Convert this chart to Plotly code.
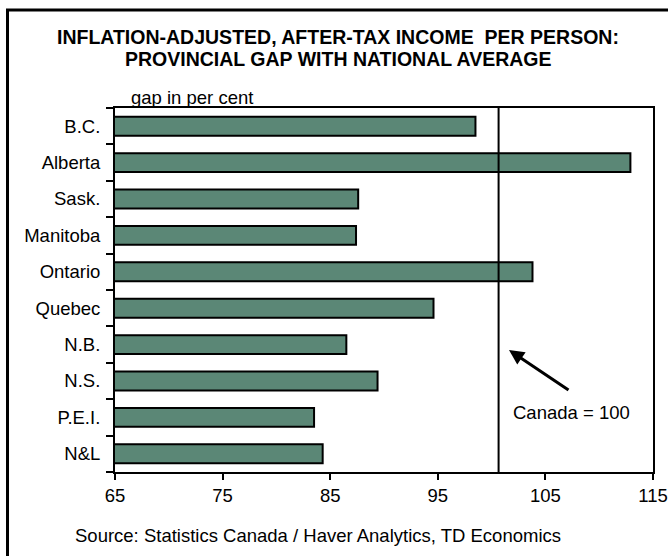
import plotly.graph_objects as go

# Provincial after-tax income per person, Canada = 100
provinces = ["B.C.", "Alberta", "Sask.", "Manitoba", "Ontario",
             "Quebec", "N.B.", "N.S.", "P.E.I.", "N&L"]
income_gap = [98.5, 112.9, 87.6, 87.4, 103.8, 94.6, 86.5, 89.4, 83.5, 84.3]
x_ticks = [65, 75, 85, 95, 105, 115]
canada_line = 100.65

W, H = 668, 556
L, R, T, B = 115, 15, 108, 84
PW, PH = W - L - R, H - T - B


def px_x(px):
    return (px - L) / PW


def px_y(py):
    return (H - B - py) / PH


FONT = "Liberation Sans, Arial, sans-serif"
FS = 18.5

fig = go.Figure(go.Bar(
    x=income_gap,
    y=provinces,
    orientation="h",
    width=0.52,
    marker=dict(color="#5b8776", line=dict(color="black", width=2)),
    showlegend=False,
))

fig.update_layout(
    width=W, height=H,
    margin=dict(l=L, r=R, t=T, b=B, autoexpand=False),
    paper_bgcolor="white", plot_bgcolor="white",
    font=dict(family=FONT, size=FS, color="black"),
    xaxis=dict(
        range=[65, 115], tickvals=x_ticks, ticktext=[str(v) for v in x_ticks],
        showgrid=False, zeroline=False,
        showline=True, linecolor="black", linewidth=2, mirror=True,
        ticks="outside", ticklen=6, tickwidth=2, tickcolor="black",
        tickfont=dict(size=FS),
    ),
    yaxis=dict(
        categoryorder="array", categoryarray=provinces[::-1],
        showgrid=False, zeroline=False,
        showline=True, linecolor="black", linewidth=2, mirror=True,
        ticks="outside", tickson="boundaries", ticklen=7, tickwidth=2,
        tickcolor="black", tickfont=dict(size=FS), ticklabelstandoff=9,
    ),
)

# national average reference line
fig.add_shape(type="line", xref="x", yref="paper",
              x0=canada_line, x1=canada_line, y0=0, y1=1,
              line=dict(color="black", width=2))

# outer frame (left and top edges)
fig.add_shape(type="line", xref="paper", yref="paper",
              x0=px_x(7.5), x1=px_x(7.5), y0=px_y(10), y1=px_y(570),
              line=dict(color="black", width=3))
fig.add_shape(type="line", xref="paper", yref="paper",
              x0=px_x(6), x1=px_x(680), y0=px_y(10), y1=px_y(10),
              line=dict(color="black", width=3))

title_lines = ["INFLATION-ADJUSTED, AFTER-TAX INCOME  PER PERSON:",
               "PROVINCIAL GAP WITH NATIONAL AVERAGE"]
for text, yc in zip(title_lines, [37, 59]):
    fig.add_annotation(text="<b>" + text + "</b>", xref="paper", yref="paper",
                       x=px_x(338), y=px_y(yc), xanchor="center", yanchor="middle",
                       showarrow=False, font=dict(size=19.5, family=FONT))

fig.add_annotation(text="gap in per cent", xref="paper", yref="paper",
                   x=px_x(129), y=px_y(97), xanchor="left", yanchor="middle",
                   showarrow=False, font=dict(size=FS))

fig.add_annotation(text="", xref="paper", yref="paper",
                   x=px_x(509), y=px_y(350), ax=61, ay=41,
                   showarrow=True, arrowhead=2, arrowsize=1, arrowwidth=3,
                   arrowcolor="black")
fig.add_annotation(text="Canada = 100", xref="paper", yref="paper",
                   x=px_x(571), y=px_y(412), xanchor="center", yanchor="middle",
                   showarrow=False, font=dict(size=FS))

fig.add_annotation(text="Source: Statistics Canada / Haver Analytics, TD Economics",
                   xref="paper", yref="paper",
                   x=px_x(318), y=px_y(535), xanchor="center", yanchor="middle",
                   showarrow=False, font=dict(size=FS))

fig.write_html("out.html")
